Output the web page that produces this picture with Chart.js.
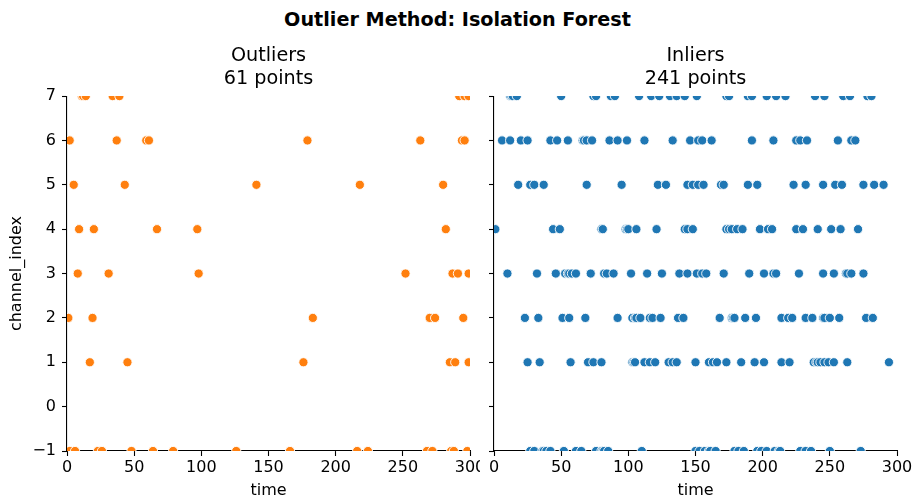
<!DOCTYPE html>
<html>
<head>
<meta charset="utf-8">
<script src="https://cdn.jsdelivr.net/npm/chart.js@4.4.1/dist/chart.umd.min.js"></script>
<style>
  html, body { margin: 0; padding: 0; background: #fff; }
  #wrap { position: relative; width: 915px; height: 504px; overflow: hidden; }
  #sup { position: absolute; left: 0; top: 8px; width: 915px; height: 24px; line-height: 24px;
         text-align: center; font-family: "DejaVu Sans", sans-serif; font-weight: bold; font-size: 19.2px; color: #000; }
  canvas { position: absolute; top: 0; }
</style>
</head>
<body>
<div id="wrap">
  <div id="sup">Outlier Method: Isolation Forest</div>
  <canvas id="left" width="480" height="504" style="left:0"></canvas>
  <canvas id="right" width="435" height="504" style="left:480px"></canvas>
</div>
<script>
// ---------------- data (time values per channel_index) ----------------
const channels = [7, 6, 5, 4, 3, 2, 1, -1];
const xTicks = [0, 50, 100, 150, 200, 250, 300];
const yTicks = [-1, 0, 1, 2, 3, 4, 5, 6, 7];

// Outliers (61 points)
const outCh7 = [11, 12, 14, 34, 39, 292, 296, 299];
const outCh6 = [2, 37, 59, 61, 179, 263, 294, 296];
const outCh5 = [5, 43, 141, 218, 280];
const outCh4 = [9, 20, 67, 97, 282];
const outCh3 = [8, 31, 98, 252, 287, 291, 299];
const outCh2 = [1, 19, 183, 270, 274, 295];
const outCh1 = [17, 45, 176, 285, 289, 299];
const outChM1 = [2, 6, 23, 26, 48, 64, 79, 126, 166, 216, 224, 268, 272, 286, 288, 298];

// Inliers (241 points)
const inCh7 = [12, 13, 14, 17, 50, 74, 76, 87, 90, 108, 117, 123, 131, 136, 142, 151, 173, 175, 189, 192, 203, 210, 217, 239, 246, 260, 265, 278, 281];
const inCh6 = [6, 12, 20, 25, 42, 47, 55, 66, 67, 69, 73, 86, 92, 99, 112, 133, 146, 152, 155, 162, 192, 208, 225, 228, 233, 256, 266, 269];
const inCh5 = [18, 27, 30, 37, 69, 95, 122, 128, 144, 148, 152, 156, 169, 171, 189, 196, 223, 232, 245, 254, 259, 275, 283, 290];
const inCh4 = [1, 44, 49, 80, 81, 98, 99, 100, 106, 121, 142, 144, 148, 173, 175, 177, 181, 185, 198, 204, 207, 225, 230, 241, 251, 258, 271];
const inCh3 = [10, 32, 46, 53, 55, 56, 58, 61, 72, 82, 84, 89, 102, 114, 125, 138, 144, 151, 155, 158, 171, 190, 201, 208, 210, 227, 245, 253, 262, 263, 266, 275];
const inCh2 = [23, 33, 51, 56, 68, 92, 103, 105, 106, 109, 116, 118, 124, 137, 141, 168, 177, 178, 179, 187, 195, 214, 219, 222, 232, 237, 245, 246, 250, 257, 277, 282];
const inCh1 = [25, 34, 57, 70, 74, 80, 103, 104, 105, 112, 116, 120, 130, 133, 136, 150, 160, 163, 166, 173, 184, 194, 201, 214, 220, 238, 240, 241, 243, 246, 249, 253, 263, 294];
const inChM1 = [27, 30, 36, 37, 39, 42, 52, 61, 65, 76, 80, 81, 82, 85, 110, 150, 153, 157, 160, 161, 165, 179, 182, 186, 196, 199, 203, 209, 212, 213, 228, 232, 236, 250, 273];

const outRows = [outCh7, outCh6, outCh5, outCh4, outCh3, outCh2, outCh1, outChM1];
const inRows = [inCh7, inCh6, inCh5, inCh4, inCh3, inCh2, inCh1, inChM1];

function toPoints(rows) {
  const pts = [];
  rows.forEach((row, i) => row.forEach(t => pts.push({ x: t, y: channels[i] })));
  pts.sort((a, b) => a.x - b.x);
  return pts;
}
const outlierPts = toPoints(outRows);
const inlierPts = toPoints(inRows);

// ---------------- styling ----------------
const FONT = '"DejaVu Sans", sans-serif';
const tickFont = { family: FONT, size: 16 };

function makeOptions(titleLines, showYLabels, padRight, yWidth) {
  return {
    responsive: false,
    animation: false,
    devicePixelRatio: 1,
    layout: { padding: { left: 0, right: padRight, top: 36, bottom: 0 } },
    plugins: {
      legend: { display: false },
      tooltip: { enabled: false },
      title: {
        display: true,
        fullSize: false,
        text: titleLines,
        color: '#000',
        font: { family: FONT, size: 19.2, weight: 'normal', lineHeight: 1.2 },
        padding: { top: 8.5, bottom: 5.5 }
      }
    },
    scales: {
      x: {
        type: 'linear',
        min: 0, max: 300,
        afterBuildTicks: s => { s.ticks = xTicks.map(v => ({ value: v })); },
        afterFit: s => { s.height = 53; s.paddingLeft = 0; s.paddingRight = 0; },
        border: { display: true, color: '#000', width: 1.1 },
        grid: { drawOnChartArea: false, drawTicks: true, tickLength: 5, tickColor: '#000', tickWidth: 1.1 },
        ticks: { color: '#000', font: tickFont, padding: 2, maxRotation: 0 },
        title: { display: true, text: 'time', color: '#000', font: { family: FONT, size: 16 }, padding: { top: 0, bottom: 3.4 } }
      },
      y: {
        type: 'linear',
        min: -1, max: 7,
        afterBuildTicks: s => { s.ticks = yTicks.map(v => ({ value: v })); },
        afterFit: s => { s.width = yWidth; s.paddingTop = 0; s.paddingBottom = 0; },
        border: { display: true, color: '#000', width: 1.1 },
        grid: { drawOnChartArea: false, drawTicks: true, tickLength: 5, tickColor: '#000', tickWidth: 1.1 },
        ticks: {
          color: '#000', font: tickFont, padding: 6,
          callback: v => showYLabels ? (v < 0 ? '\u2212' + Math.abs(v) : String(v)) : ''
        },
        title: { display: showYLabels, text: 'channel_index', color: '#000', font: { family: FONT, size: 16 }, padding: { top: 7.4, bottom: 0 } }
      }
    }
  };
}

function dataset(pts, color) {
  return {
    data: pts,
    backgroundColor: color,
    borderColor: '#ffffff',
    borderWidth: 0.9,
    pointRadius: 4.6,
    pointHoverRadius: 4.6,
    clip: 0
  };
}

new Chart(document.getElementById('left'), {
  type: 'scatter',
  data: { datasets: [dataset(outlierPts, '#ff7f0e')] },
  options: makeOptions(['Outliers', outlierPts.length + ' points'], true, 10, 67)
});

new Chart(document.getElementById('right'), {
  type: 'scatter',
  data: { datasets: [dataset(inlierPts, '#1f77b4')] },
  options: makeOptions(['Inliers', inlierPts.length + ' points'], false, 18, 14)
});
</script>
</body>
</html>
